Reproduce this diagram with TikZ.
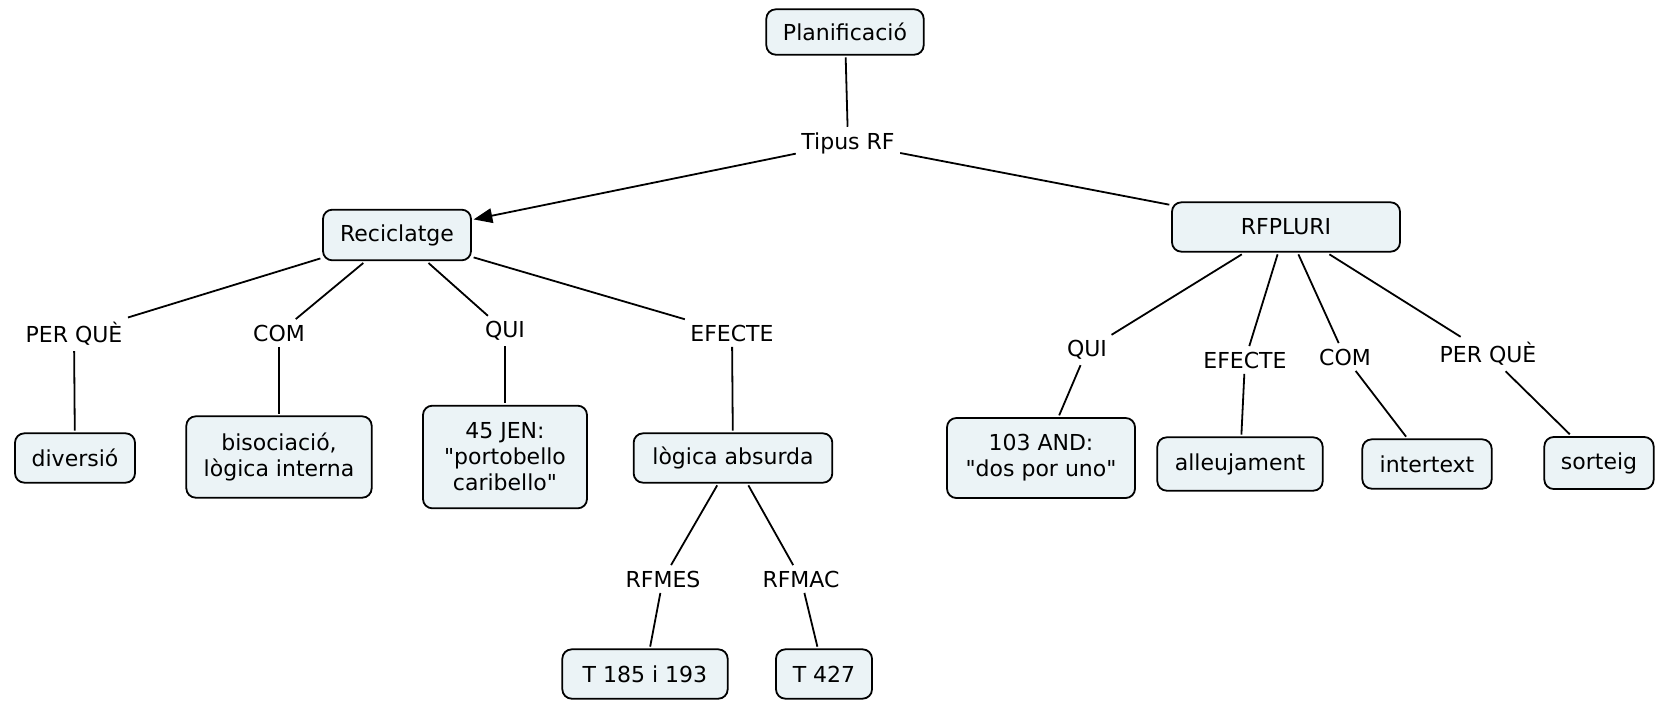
\documentclass[tikz,border=0pt]{standalone}
\usepackage{fontspec}
\setmainfont{DejaVu Sans}
\usetikzlibrary{arrows.meta}

\definecolor{conceptfill}{RGB}{235,243,246}

\tikzstyle{concept} = [rectangle,rounded corners=7pt,draw,line width=1.35pt,fill=conceptfill,align=center,minimum height=37pt,inner xsep=8pt,outer sep=2pt]
\tikzstyle{linkword} = [align=center,inner sep=4pt]
\tikzstyle{edge} = [line width=1.35pt]
\tikzstyle{arrowedge} = [-{Triangle[length=14pt,width=11pt]},line width=1.35pt]

\newcommand{\dq}{\textquotedbl}

\begin{document}
\begin{tikzpicture}[x=0.75pt,y=-0.75pt,font=\fontsize{16.5}{19.5}\selectfont]
\useasboundingbox (0,0) rectangle (1657,701);

% vertices
\node[concept,minimum width=118pt,minimum height=34pt] (plan) at (845,32) {Planificació};
\node[linkword] (tipus) at (848,143) {Tipus RF};

\node[concept,minimum width=111pt,minimum height=38pt] (recic) at (397,235) {Reciclatge};
\node[concept,minimum width=171pt] (rfpluri) at (1286,227) {RFPLURI};

\node[linkword] (perque1) at (74,334) {PER QUÈ};
\node[linkword] (com1) at (279,333) {COM};
\node[linkword] (qui1) at (505,331) {QUI};
\node[linkword] (efecte1) at (732,333) {EFECTE};

\node[concept,minimum width=90pt] (diversio) at (75,458) {diversió};
\node[concept,minimum width=139pt,minimum height=61pt] (bisoc) at (279,457) {bisociació,\\lògica interna};
\node[concept,minimum width=123pt,minimum height=77pt] (jen) at (505,457) {45 JEN:\\\dq portobello\\caribello\dq};
\node[concept,minimum width=149pt] (logica) at (733,458) {lògica absurda};

\node[linkword] (rfmes) at (663,579) {RFMES};
\node[linkword] (rfmac) at (801,579) {RFMAC};
\node[concept,minimum width=124pt] (t185) at (645,674) {T 185 i 193};
\node[concept,minimum width=72pt] (t427) at (824,674) {T 427};

\node[linkword] (qui2) at (1087,350) {QUI};
\node[linkword] (efecte2) at (1245,360) {EFECTE};
\node[linkword] (com2) at (1345,357) {COM};
\node[linkword] (perque2) at (1488,354) {PER QUÈ};

\node[concept,minimum width=141pt,minimum height=60pt] (and) at (1041,458) {103 AND:\\\dq dos por uno\dq};
\node[concept,minimum width=124pt,minimum height=40pt] (alleuj) at (1240,464) {alleujament};
\node[concept,minimum width=97pt] (intertext) at (1427,464) {intertext};
\node[concept,minimum width=82pt,minimum height=39pt] (sorteig) at (1599,463) {sorteig};

% edges
\draw[arrowedge] (tipus) -- (recic);
\foreach \a/\b in {plan/tipus, tipus/rfpluri,
    recic/perque1, recic/com1, recic/qui1, recic/efecte1,
    perque1/diversio, com1/bisoc, qui1/jen, efecte1/logica,
    logica/rfmes, logica/rfmac, rfmes/t185, rfmac/t427,
    rfpluri/qui2, rfpluri/efecte2, rfpluri/com2, rfpluri/perque2,
    qui2/and, efecte2/alleuj, com2/intertext, perque2/sorteig} {
    \draw[edge] (\a) -- (\b);
}

\end{tikzpicture}
\end{document}
